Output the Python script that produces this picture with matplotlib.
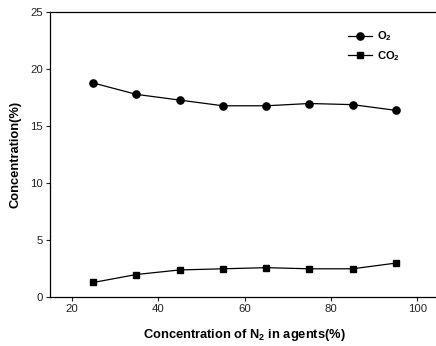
import matplotlib
matplotlib.use("Agg")
import matplotlib.pyplot as plt

n2 = [25, 35, 45, 55, 65, 75, 85, 95]
o2 = [18.8, 17.8, 17.3, 16.8, 16.8, 17.0, 16.9, 16.4]
co2 = [1.3, 2.0, 2.4, 2.5, 2.6, 2.5, 2.5, 3.0]
xticks = [20, 40, 60, 80, 100]
yticks = [0, 5, 10, 15, 20, 25]

plt.rcParams['font.family'] = ['Liberation Sans', 'DejaVu Sans']
plt.rcParams['mathtext.fontset'] = 'custom'
plt.rcParams['mathtext.rm'] = 'Liberation Sans:bold'
plt.rcParams['mathtext.it'] = 'Liberation Sans:bold'

fig = plt.figure(figsize=(4.36, 3.46), dpi=100)
ax = fig.add_axes([50/436, 1-297.3/346, 389/436, 285/346])
ax.plot(n2, o2, '-o', color='black', lw=0.9, ms=5.2, label='O$_2$')
ax.plot(n2, co2, '-s', color='black', lw=0.9, ms=4.6, label='CO$_2$')
ax.set_xlim(15, 105)
ax.set_ylim(0, 25)
ax.set_xticks(xticks)
ax.set_yticks(yticks)
ax.tick_params(direction='out', length=3, width=0.8, labelsize=8.2, pad=2, colors='#222222')
for s in ax.spines.values():
    s.set_linewidth(0.9)
ax.set_xlabel('Concentration of N$_2$ in agents(%)', fontsize=9.3, fontweight='bold', labelpad=9)
ax.set_ylabel('Concentration(%)', fontsize=9.3, fontweight='bold', labelpad=6)
leg = ax.legend(loc='upper left', bbox_to_anchor=(0.74, 0.975), frameon=False,
                prop={'weight': 'bold', 'size': 8},
                handlelength=2.2, labelspacing=0.55, handletextpad=0.4)
fig.savefig('out.png', dpi=100)
